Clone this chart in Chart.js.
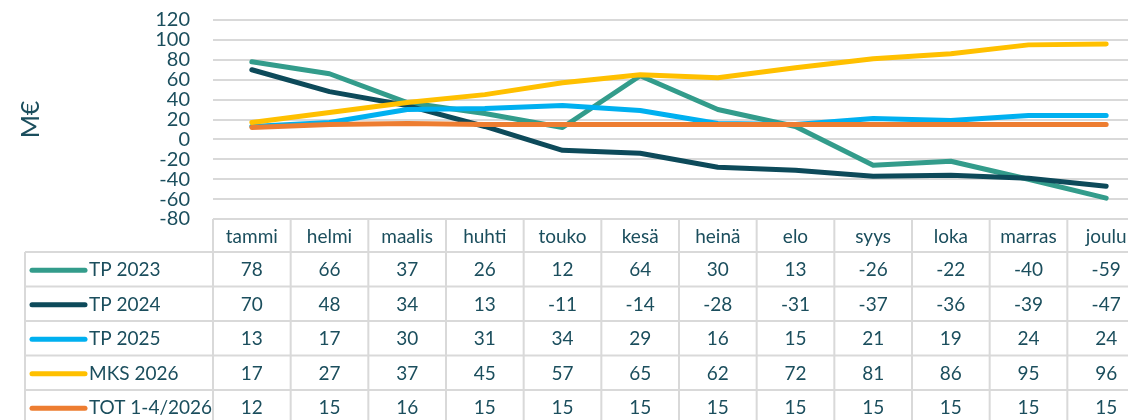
<!DOCTYPE html>
<html>
<head>
<meta charset="utf-8">
<script src="https://cdn.jsdelivr.net/npm/chart.js@4"></script>
<style>
  html, body { margin: 0; padding: 0; background: #fff; overflow: hidden; }
</style>
</head>
<body>
<canvas id="linechart" width="1146" height="420"></canvas>
<script>
var months = ['tammi', 'helmi', 'maalis', 'huhti', 'touko', 'kesä', 'heinä', 'elo', 'syys', 'loka', 'marras', 'joulu'];
var seriesNames = ['TP 2023', 'TP 2024', 'TP 2025', 'MKS 2026', 'TOT 1-4/2026'];
var tp2023 = [78, 66, 37, 26, 12, 64, 30, 13, -26, -22, -40, -59];
var tp2024 = [70, 48, 34, 13, -11, -14, -28, -31, -37, -36, -39, -47];
var tp2025 = [13, 17, 30, 31, 34, 29, 16, 15, 21, 19, 24, 24];
var mks2026 = [17, 27, 37, 45, 57, 65, 62, 72, 81, 86, 95, 96];
var tot2026 = [12, 15, 16, 15, 15, 15, 15, 15, 15, 15, 15, 15];
var colors = ['#339c8b', '#0d4a5a', '#00b0f0', '#ffc000', '#ed7d31'];

var textColor = '#1b4e5d';
var gridColor = '#d9d9d9';
var fontFam = 'Lato, "Open Sans", sans-serif';

// data table under the plot, uses the x scale for the columns
var tablePlugin = {
  id: 'datatable',
  afterDraw: function(chart) {
    var c = chart.ctx;
    var x = chart.scales.x;
    var area = chart.chartArea;
    var colW = x.getPixelForValue(1) - x.getPixelForValue(0);
    var top = area.bottom;
    var headH = 33;
    var rowH = 34.5;
    var legLeft = 25;
    var n = months.length;
    var rightEdge = x.getPixelForValue(n - 1) + colW / 2;

    c.save();
    c.strokeStyle = gridColor;
    c.lineWidth = 2;
    c.beginPath();
    // header top + vertical lines
    c.moveTo(area.left, top); c.lineTo(rightEdge, top);
    for (var i = 0; i <= n; i++) {
      var vx = x.getPixelForValue(i) - colW / 2;
      c.moveTo(vx, top); c.lineTo(vx, top + headH + rowH * seriesNames.length);
    }
    for (var r = 0; r <= seriesNames.length; r++) {
      var ry = top + headH + rowH * r;
      c.moveTo(legLeft, ry); c.lineTo(rightEdge, ry);
    }
    c.moveTo(legLeft, top + headH); c.lineTo(legLeft, top + headH + rowH * seriesNames.length);
    c.stroke();

    c.fillStyle = textColor;
    c.font = '19px ' + fontFam;
    c.textAlign = 'center';
    c.textBaseline = 'middle';
    months.forEach(function(m, i) {
      c.fillText(m, x.getPixelForValue(i), top + headH / 2 + 1);
    });

    chart.data.datasets.forEach(function(ds, r) {
      var cy = top + headH + rowH * r + rowH / 2 + 1;
      c.strokeStyle = ds.borderColor;
      c.lineWidth = 5;
      c.lineCap = 'round';
      c.beginPath();
      c.moveTo(32, cy); c.lineTo(85, cy);
      c.stroke();
      c.fillStyle = textColor;
      c.textAlign = 'left';
      c.fillText(ds.label, 89, cy);
      c.textAlign = 'center';
      ds.data.forEach(function(v, i) {
        c.fillText(String(v), x.getPixelForValue(i), cy);
      });
    });
    c.restore();
  }
};

var allSeries = [tp2023, tp2024, tp2025, mks2026, tot2026];
var ctx = document.getElementById('linechart').getContext('2d');
var myChart = new Chart(ctx, {
  type: 'line',
  data: {
    labels: months,
    datasets: allSeries.map(function(vals, i) {
      return {
        label: seriesNames[i],
        data: vals,
        borderColor: colors[i],
        backgroundColor: colors[i],
        borderWidth: 5,
        pointRadius: 0,
        tension: 0,
        borderCapStyle: 'round',
        borderJoinStyle: 'round',
        order: seriesNames.length - i
      };
    })
  },
  options: {
    responsive: false,
    animation: false,
    layout: { padding: { top: 20, bottom: 201, left: 0, right: 1 } },
    plugins: {
      legend: { display: false },
      tooltip: { enabled: false }
    },
    scales: {
      x: {
        display: false,
        offset: true
      },
      y: {
        min: -80,
        max: 120,
        afterFit: function(scale) { scale.width = 213; },
        ticks: {
          stepSize: 20,
          autoSkip: false,
          padding: 0,
          color: textColor,
          font: { family: fontFam, size: 20 }
        },
        grid: {
          color: gridColor,
          lineWidth: 2,
          drawTicks: true,
          tickLength: 23,
          tickColor: 'rgba(0,0,0,0)'
        },
        border: { display: false },
        title: {
          display: true,
          text: 'M€',
          color: textColor,
          font: { family: fontFam, size: 25 },
          padding: { top: 16, bottom: 0 }
        }
      }
    }
  },
  plugins: [tablePlugin]
});
</script>
</body>
</html>
